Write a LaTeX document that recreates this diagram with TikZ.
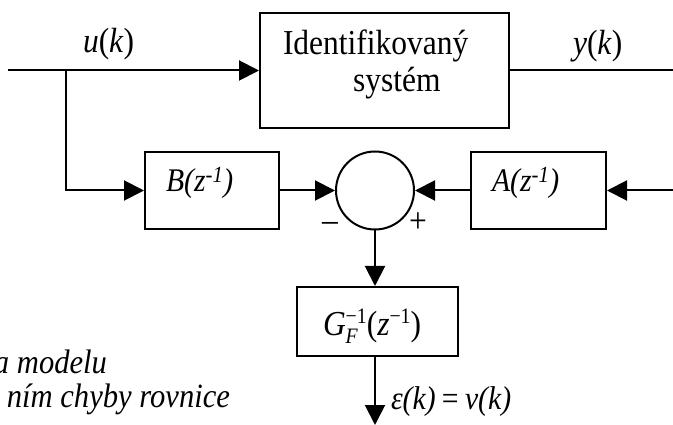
\documentclass[tikz,border=0pt]{standalone}
\usepackage{fontspec}
\usepackage{graphicx}
\setmainfont{Liberation Serif}
\usetikzlibrary{arrows.meta}
\newcommand\hsq[1]{\scalebox{0.9}[1]{#1}}
\begin{document}
\begin{tikzpicture}[x=1pt,y=-1pt,line width=2pt,
  blk/.style={draw,rectangle,inner sep=0pt,line width=2pt},
  txt/.style={inner sep=0pt,font=\fontsize{35}{40}\selectfont},
  itx/.style={inner sep=0pt,font=\fontsize{33}{38}\selectfont\itshape},
  tipp/.style={-{Triangle[length=20pt,width=20pt]}}]
\useasboundingbox (0,0) rectangle (673,425);
% blocks
\node[blk,minimum width=249pt,minimum height=115pt] (sys) at (384.5,70.5) {};
\node[blk,minimum width=134pt,minimum height=77pt] (B) at (212,190.5) {};
\node[blk,minimum width=135pt,minimum height=77pt] (A) at (538.5,190.5) {};
\node[blk,minimum width=161pt,minimum height=69pt] (G) at (377.5,321.5) {};
\node[draw,circle,inner sep=0pt,minimum size=78pt] (S) at (375,190.5) {};
% texts
\node[txt,anchor=base west] (t1) at (282,55) {\hsq{Identifikovaný}};
\node[txt,anchor=base west] (t2) at (352,92) {\hsq{systém}};
\node[txt,anchor=base west] (u) at (82,53) {\hsq{\textit{u}(\textit{k})}};
\node[txt,anchor=base west] (y) at (572,55) {\hsq{\textit{y}(\textit{k})}};
\node[itx,anchor=base west] (tb) at (165,192) {\hsq{B(z\textsuperscript{-1})}};
\node[itx,anchor=base west] (ta) at (491,192) {\hsq{A(z\textsuperscript{-1})}};
\node[txt,anchor=base west] (tg) at (322,335) {\hsq{\textit{G}\rlap{\raisebox{-8pt}{\fontsize{22}{22}\selectfont\itshape F}}\raisebox{12pt}{\fontsize{22}{22}\selectfont −1}(\textit{z}\raisebox{12pt}{\fontsize{22}{22}\selectfont −1})}};
\node[itx,anchor=base west] (te) at (390,409) {\hsq{ε(k)\hspace{7pt}{\upshape =}\hspace{7pt}ν(k)}};
\node[txt,anchor=base] (mi) at (330,232) {\hsq{–}};
\node[txt,anchor=base] (pl) at (418,233) {\hsq{+}};
\node[itx,anchor=base east,font=\fontsize{34}{38}\selectfont\itshape] (l1) at (108,373) {\hsq{a modelu}};
\node[itx,anchor=base east,font=\fontsize{34}{38}\selectfont\itshape] (l2) at (231,407) {\hsq{ním chyby rovnice}};
% connectors
\coordinate (in) at (8,70.5);
\coordinate (j) at (66,70.5);
\coordinate (yr) at (673,70.5);
\coordinate (ar) at (673,190.5);
\coordinate (out) at (375,425);
\draw[tipp] (in) -- (sys.west);
\draw (sys.east) -- (yr);
\draw[tipp] (j) |- (B.west);
\draw[tipp] (B.east) -- (S.west);
\draw[tipp] (A.west) -- (S.east);
\draw[tipp] (ar) -- (A.east);
\draw[tipp] (S.south) -- (S.south |- G.north);
\draw[tipp] (S.south |- G.south) -- (out);
\end{tikzpicture}
\end{document}
